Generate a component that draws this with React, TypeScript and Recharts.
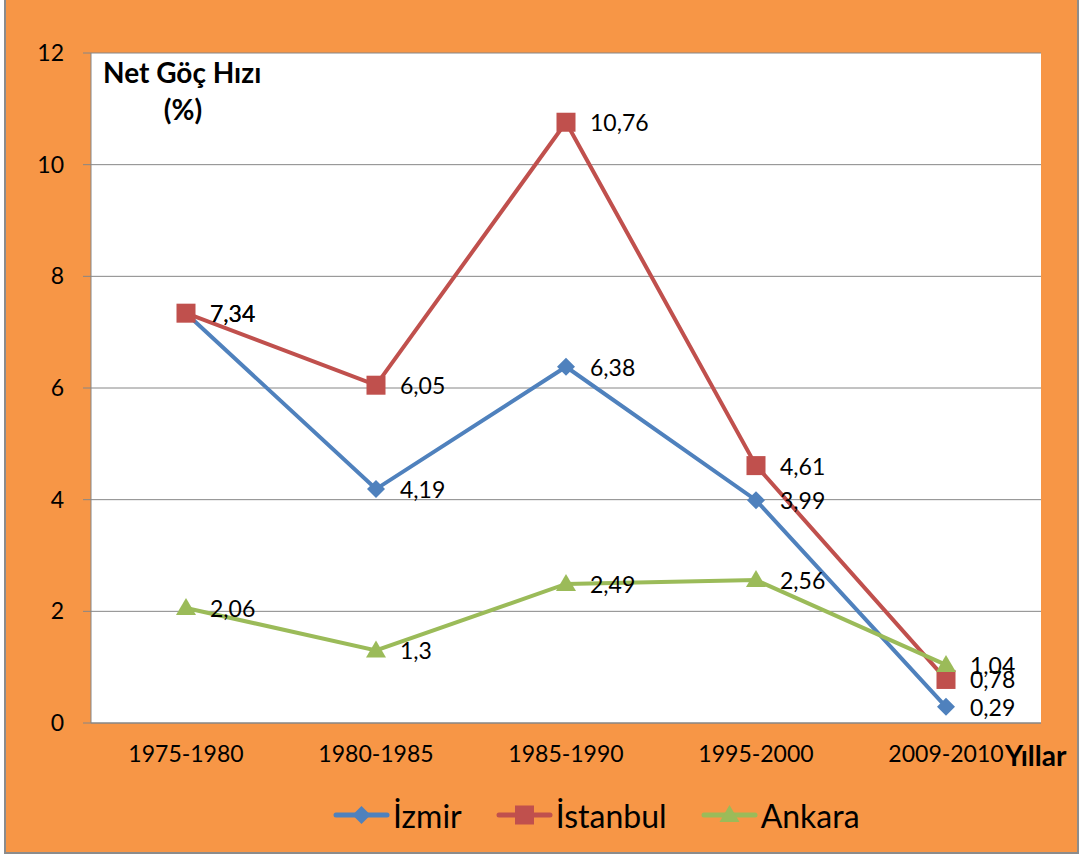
import React from 'react';
import {
  CartesianGrid,
  LabelList,
  Legend,
  Line,
  LineChart,
  XAxis,
  YAxis,
} from 'recharts';

const periods = ['1975-1980', '1980-1985', '1985-1990', '1995-2000', '2009-2010'];
const izmir = [7.34, 4.19, 6.38, 3.99, 0.29];
const istanbul = [7.34, 6.05, 10.76, 4.61, 0.78];
const ankara = [2.06, 1.3, 2.49, 2.56, 1.04];
const yTicks = [0, 2, 4, 6, 8, 10, 12];

const data = periods.map((p, i) => ({
  period: p,
  izmir: izmir[i],
  istanbul: istanbul[i],
  ankara: ankara[i],
}));

const FONT = 'Lato, "Noto Sans", sans-serif';
const BLUE = '#4F81BD';
const RED = '#C0504D';
const GREEN = '#9BBB59';
const ORANGE = '#F79646';

function marker(kind: string, cx: number, cy: number, key?: string | number) {
  if (kind === 'diamond') {
    return (
      <polygon
        key={key}
        points={`${cx},${cy - 9} ${cx + 9},${cy} ${cx},${cy + 9} ${cx - 9},${cy}`}
        fill={BLUE}
      />
    );
  }
  if (kind === 'square') {
    return <rect key={key} x={cx - 9.5} y={cy - 9.5} width={19} height={19} fill={RED} />;
  }
  return (
    <polygon
      key={key}
      points={`${cx},${cy - 10} ${cx + 10},${cy + 7} ${cx - 10},${cy + 7}`}
      fill={GREEN}
    />
  );
}

const dotFor = (kind: string) => (props: any) =>
  marker(kind, props.cx, props.cy, `${kind}-${props.index}`);

const renderLabel = (props: any) => {
  const { x, y, value } = props;
  return (
    <text
      x={x + 24}
      y={y}
      dominantBaseline="central"
      fontSize={23}
      fontFamily={FONT}
      fill="#000"
    >
      {String(value).replace('.', ',')}
    </text>
  );
};

const legendItems = [
  { name: 'İzmir', color: BLUE, kind: 'diamond' },
  { name: 'İstanbul', color: RED, kind: 'square' },
  { name: 'Ankara', color: GREEN, kind: 'triangle' },
];

const renderLegend = () => (
  <div
    style={{
      height: 60,
      display: 'flex',
      alignItems: 'center',
      justifyContent: 'flex-start',
      gap: 34,
      paddingLeft: 327,
      fontFamily: FONT,
      fontSize: 32,
      color: '#000',
    }}
  >
    {legendItems.map((it) => (
      <div key={it.name} style={{ display: 'flex', alignItems: 'center', gap: 3 }}>
        <svg width={57} height={24}>
          <line x1={3} y1={12} x2={54} y2={12} stroke={it.color} strokeWidth={5} strokeLinecap="round" />
          {marker(it.kind, 28.5, 12)}
        </svg>
        <span>{it.name}</span>
      </div>
    ))}
  </div>
);

export default function App() {
  return (
    <div
      style={{
        position: 'absolute',
        left: 4,
        top: -2,
        width: 1071,
        height: 852,
        border: '2px solid #8C8C8C',
        background: ORANGE,
      }}
    >
      <LineChart
        width={1071}
        height={852}
        data={data}
        margin={{ top: 53, right: 36, left: 0, bottom: 7 }}
      >
        <CartesianGrid vertical={false} stroke="#868686" fill="#FFFFFF" fillOpacity={1} />
        <XAxis
          dataKey="period"
          height={62}
          padding={{ left: 95, right: 95 }}
          tickLine={false}
          tickSize={0}
          tickMargin={23}
          axisLine={{ stroke: '#868686' }}
          tick={{ fill: '#000', fontSize: 23, fontFamily: FONT }}
          interval={0}
        />
        <YAxis
          width={85}
          domain={[0, 12]}
          ticks={yTicks}
          tickSize={8}
          tickMargin={19}
          axisLine={{ stroke: '#868686' }}
          tickLine={{ stroke: '#868686' }}
          tick={{ fill: '#000', fontSize: 23, fontFamily: FONT }}
        />
        <Legend verticalAlign="bottom" content={renderLegend} />
        <Line
          dataKey="izmir"
          name="İzmir"
          stroke={BLUE}
          strokeWidth={4}
          dot={dotFor('diamond')}
          isAnimationActive={false}
        >
          <LabelList dataKey="izmir" content={renderLabel} />
        </Line>
        <Line
          dataKey="istanbul"
          name="İstanbul"
          stroke={RED}
          strokeWidth={4}
          dot={dotFor('square')}
          isAnimationActive={false}
        >
          <LabelList dataKey="istanbul" content={renderLabel} />
        </Line>
        <Line
          dataKey="ankara"
          name="Ankara"
          stroke={GREEN}
          strokeWidth={4}
          dot={dotFor('triangle')}
          isAnimationActive={false}
        >
          <LabelList dataKey="ankara" content={renderLabel} />
        </Line>
      </LineChart>
      <svg
        width={1071}
        height={852}
        style={{ position: 'absolute', left: 0, top: 0, pointerEvents: 'none' }}
      >
        <text x={97} y={83} fontSize={28} fontWeight="bold" fontFamily={FONT} fill="#000">
          Net Göç Hızı
        </text>
        <text x={177} y={120} fontSize={28} fontWeight="bold" fontFamily={FONT} fill="#000" textAnchor="middle">
          (%)
        </text>
        <text x={999} y={766} fontSize={28} fontWeight="bold" fontFamily={FONT} fill="#000">
          Yıllar
        </text>
      </svg>
    </div>
  );
}
